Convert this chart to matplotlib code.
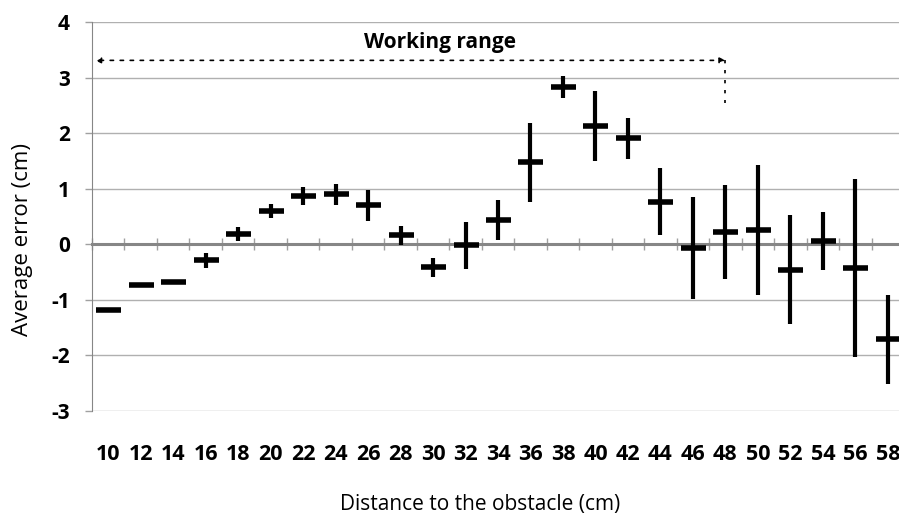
import matplotlib.pyplot as plt

# distance to obstacle (cm) and measured average error (cm)
distances = [10, 12, 14, 16, 18, 20, 22, 24, 26, 28, 30, 32, 34,
             36, 38, 40, 42, 44, 46, 48, 50, 52, 54, 56, 58]
avg_error = [-1.19, -0.73, -0.67, -0.29, 0.19, 0.60, 0.87, 0.90, 0.70, 0.16,
             -0.41, -0.02, 0.43, 1.48, 2.83, 2.13, 1.91, 0.77, -0.07, 0.22,
             0.25, -0.46, 0.06, -0.42, -1.71]
std_error = [0.0, 0.0, 0.0, 0.13, 0.13, 0.12, 0.17, 0.19, 0.28, 0.17,
             0.17, 0.42, 0.36, 0.71, 0.20, 0.63, 0.37, 0.61, 0.92, 0.85,
             1.17, 0.98, 0.52, 1.60, 0.80]
y_ticks = [-3, -2, -1, 0, 1, 2, 3, 4]

plt.rcParams['font.family'] = ['Open Sans', 'DejaVu Sans']

fig = plt.figure(figsize=(8.99, 5.17), dpi=100)
ax = fig.add_axes([0.1023, 0.205, 0.9033, 0.7524])

x = list(range(len(distances)))
ax.errorbar(x, avg_error, yerr=std_error, fmt='_', color='black',
            markersize=18, markeredgewidth=4, elinewidth=3, capsize=0, zorder=5)

ax.set_xlim(-0.5, len(distances) - 0.5)
ax.set_ylim(-3, 4)
ax.set_yticks(y_ticks)
ax.set_yticklabels([str(v) for v in y_ticks], fontweight='bold', fontsize=15)
ax.yaxis.grid(True, color='#b0b0b0', lw=1)
ax.set_axisbelow(True)

# category axis crosses at zero
ax.spines['bottom'].set_position(('data', 0))
ax.spines['bottom'].set_color('#868686')
ax.spines['bottom'].set_linewidth(2.2)
ax.spines['left'].set_color('#868686')
ax.spines['top'].set_visible(False)
ax.spines['right'].set_visible(False)
ax.set_xticks(x)
ax.set_xticklabels([str(d) for d in distances], fontweight='bold', fontsize=15.5)
ax.set_xticks([i - 0.5 for i in range(len(distances) + 1)], minor=True)
ax.tick_params(axis='x', which='major', length=0, pad=143.5)
ax.tick_params(axis='x', which='minor', direction='inout', length=8,
               width=1, color='#a0a0a0')
ax.tick_params(axis='y', length=5, width=1, color='#a0a0a0', pad=11)

ax.set_ylabel('Average error (cm)', fontsize=16)
ax.yaxis.set_label_coords(-0.073, 0.44)
fig.text(0.534, 0.0135, 'Distance to the obstacle (cm)', fontsize=15, ha='center')

# working range annotation
ax.annotate('', xy=(-0.4, 3.31), xytext=(19, 3.31),
            arrowprops=dict(arrowstyle='<|-|>', linestyle=(0, (2, 4)), lw=1.2,
                            color='black', mutation_scale=8, shrinkA=0, shrinkB=0))
ax.plot([19, 19], [3.31, 2.54], color='black', lw=1.2, linestyle=(0, (2, 4)))
ax.text(10.2, 3.63, 'Working range', fontweight='bold', fontsize=15,
        ha='center', va='center')

fig.savefig('out.png', dpi=100)
